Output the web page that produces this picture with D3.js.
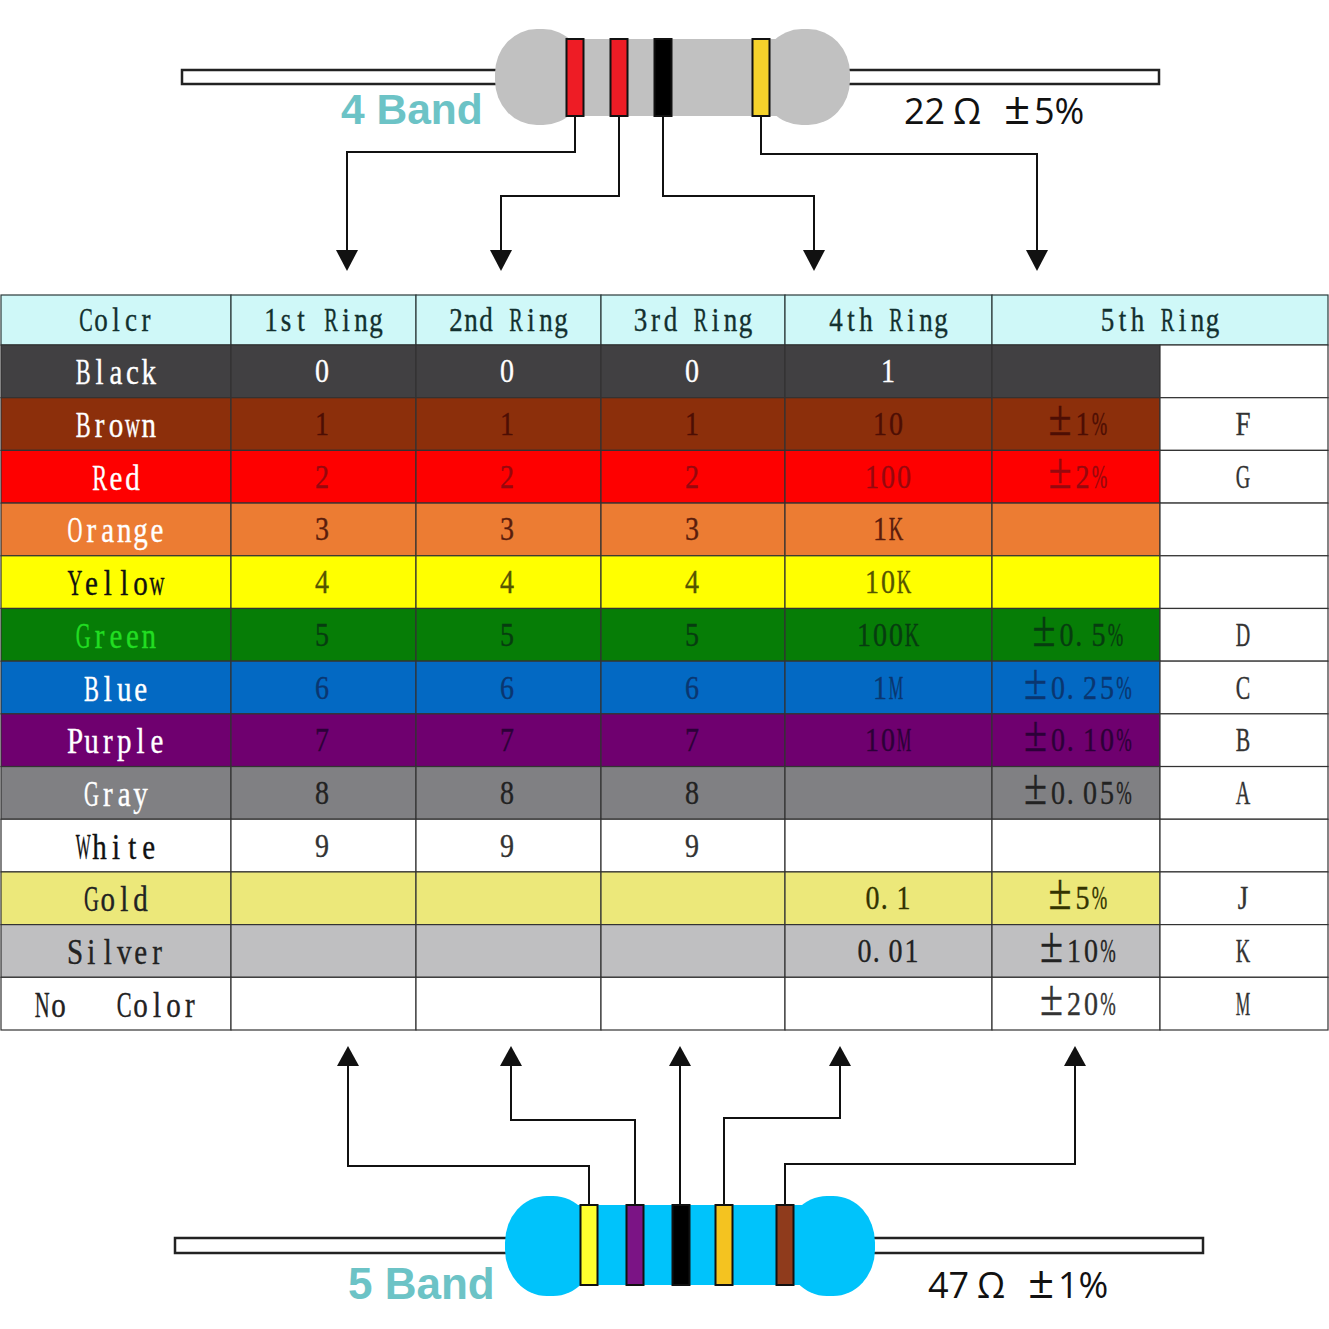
<!DOCTYPE html>
<html>
<head>
<meta charset="utf-8">
<script src="https://d3js.org/d3.v7.min.js"></script>
<style>
  html, body { margin: 0; padding: 0; background: #fff; }
  svg { display: block; }
  .cell-text { font-family: "Liberation Serif", serif; text-anchor: middle; stroke-width: 0.3; }
</style>
</head>
<body>
<div id="chart"></div>
<script>
// table content
const headers = ['Colcr', '1st Ring', '2nd Ring', '3rd Ring', '4th Ring', '5th Ring']
const colorNames = ['Black', 'Brown', 'Red', 'Orange', 'Yellow', 'Green', 'Blue', 'Purple', 'Gray', 'White', 'Gold', 'Silver', 'No   Color']
const ring1 = ['0', '1', '2', '3', '4', '5', '6', '7', '8', '9', '', '', '']
const ring2 = ['0', '1', '2', '3', '4', '5', '6', '7', '8', '9', '', '', '']
const ring3 = ['0', '1', '2', '3', '4', '5', '6', '7', '8', '9', '', '', '']
const ring4 = ['1', '10', '100', '1K', '10K', '100K', '1M', '10M', '', '', '0. 1', '0. 01', '']
const ring5 = ['', '±1%', '±2%', '', '', '±0. 5%', '±0. 25%', '±0. 10%', '±0. 05%', '', '±5%', '±10%', '±20%']
const codes = ['', 'F', 'G', '', '', 'D', 'C', 'B', 'A', '', 'J', 'K', 'M']

// colours per row
const rowFills = ['#414042', '#8c2f0b', '#fe0000', '#ec7c33', '#ffff00', '#067d06', '#0369c3', '#6f006f', '#808083', '#ffffff', '#ece87a', '#bfbfc1', '#ffffff']
const nameInks = ['#fff', '#fff', '#fff', '#fff', '#111', '#22dd22', '#fff', '#fff', '#fff', '#111', '#222', '#222', '#222']
const valueInks = ['#fff', '#4d0e04', '#96080e', '#5a1c0c', '#555500', '#063c10', '#0a3670', '#2c0038', '#222', '#333', '#333300', '#222', '#333']

// column edges of the table
const colEdges = [1, 231, 416, 601, 785, 992, 1160, 1328]
const colKeys = ['name', 'r1', 'r2', 'r3', 'r4', 'r5', 'code']
const colCentres = [116, 322, 507, 692, 888, 1077, 1243]

// resistor pictures
const topBands = ['#ee1c25', '#ee1c25', '#000000', '#f6d32b']
const topBandX = [575, 619, 663, 761]
const topElbowY = [152, 196, 196, 154]
const topArrowX = [347, 501, 814, 1037]
const bottomBands = ['#ffff2e', '#7b1485', '#000000', '#f4c320', '#8f3b1c']
const bottomBandX = [589, 635, 681, 724, 785]
const bottomElbowY = [1166, 1120, 1120, 1118, 1164]
const bottomArrowX = [348, 511, 680, 840, 1075]

const w = 1329
const h = 1329

// glyphs too wide for a half width cell get squeezed sideways
const wideGlyphs = ['W', 'M', 'K', '%', 'w', 'N', 'D', 'A', 'G', 'O', 'C', 'R', 'Y', 'B']

const x = d3.scaleOrdinal().domain(colKeys).range(colEdges)
const xEnd = d3.scaleOrdinal().domain(colKeys).range(colEdges.slice(1))
const xMid = d3.scaleOrdinal().domain(colKeys).range(colCentres)
const y = d3.scaleBand().domain(d3.range(colorNames.length)).range([345, 1030])

const svg = d3.select('#chart').append('svg').attr('width', w).attr('height', h)

const line = d3.line()

// every glyph sits in its own fixed width cell, ± takes about two cells
const cellText = (g, str, cx, cy, ink, charW, size, tightDot) => {
  const chars = Array.from(str)
  const widths = chars.map(c => {
    if (c === '±') return 28
    if (tightDot && (c === '.' || c === ' ')) return 7.5
    return charW
  })
  let pos = -d3.sum(widths) / 2
  const t = g.append('text')
    .attr('class', 'cell-text')
    .attr('transform', `translate(${cx},${cy + 11}) scale(1,1.21)`)
    .attr('font-size', size)
    .attr('fill', ink)
    .attr('stroke', ink)
  chars.forEach((c, i) => {
    if (c !== ' ') {
      const s = t.append('tspan')
        .attr('x', pos + widths[i] / 2)
        .attr('font-size', c === '±' ? 42 : size)
        .text(c)
      if (wideGlyphs.includes(c)) {
        s.attr('textLength', charW - 1.5).attr('lengthAdjust', 'spacingAndGlyphs')
      }
    }
    pos += widths[i]
  })
}

/*Tabla*/
const table = svg.append('g')
const ringRows = { r1: ring1, r2: ring2, r3: ring3, r4: ring4, r5: ring5 }

// header
headers.forEach((d, i) => {
  const key = colKeys[i]
  const right = i === 5 ? 1328 : xEnd(key)
  table.append('rect')
    .attr('x', x(key)).attr('y', 295)
    .attr('width', right - x(key)).attr('height', 50)
    .attr('fill', '#cff8f8').attr('stroke', '#2b3a3a').attr('stroke-width', 1.2)
  cellText(table, d, (x(key) + right) / 2, 320, '#12302f', 15, 27)
})

// body
colorNames.forEach((name, r) => {
  colKeys.forEach(key => {
    const filled = key !== 'code'
    table.append('rect')
      .attr('x', x(key)).attr('y', y(r))
      .attr('width', xEnd(key) - x(key)).attr('height', y.bandwidth())
      .attr('fill', filled ? rowFills[r] : '#fff')
      .attr('stroke', '#333').attr('stroke-width', 1.2)
  })
  const cy = y(r) + y.bandwidth() / 2
  cellText(table, name, xMid('name'), cy + 2, nameInks[r], 16.4, 29)
  Object.keys(ringRows).forEach(key => {
    const val = ringRows[key][r]
    if (val) cellText(table, val, xMid(key), cy, valueInks[r], key === 'r5' ? 17 : 16, 28, true)
  })
  if (codes[r]) cellText(table, codes[r], xMid('code'), cy, '#333', 16, 27)
})

/*Resistencias*/
const resistor = (cfg) => {
  const g = svg.append('g')
  g.append('rect')
    .attr('x', cfg.wire[0]).attr('y', cfg.wireY)
    .attr('width', cfg.wire[1] - cfg.wire[0]).attr('height', cfg.wireH)
    .attr('fill', '#fff').attr('stroke', '#222').attr('stroke-width', 2.5)

  // body and end caps
  g.append('rect')
    .attr('x', cfg.caps[0] + 50).attr('y', cfg.bodyY[0])
    .attr('width', cfg.caps[1] - cfg.caps[0] - 100).attr('height', cfg.bodyY[1] - cfg.bodyY[0])
    .attr('fill', cfg.fill)
  cfg.capCx.forEach(cx => {
    g.append('rect')
      .attr('x', cx - cfg.capRx).attr('y', cfg.cy - cfg.capRy)
      .attr('width', cfg.capRx * 2).attr('height', cfg.capRy * 2)
      .attr('rx', cfg.capRx * 0.93).attr('ry', cfg.capRy * 0.93)
      .attr('fill', cfg.fill)
  })

  // bands
  cfg.bands.forEach((c, i) => {
    g.append('rect')
      .attr('x', cfg.bandX[i] - 8.5).attr('y', cfg.bodyY[0])
      .attr('width', 17).attr('height', cfg.bodyY[1] - cfg.bodyY[0])
      .attr('fill', c).attr('stroke', '#111').attr('stroke-width', 2)
  })

  // leaders and arrows
  cfg.bandX.forEach((bx, i) => {
    const ax = cfg.arrowX[i]
    const pts = Math.abs(bx - ax) < 2
      ? [[ax, cfg.startY], [ax, cfg.arrowBase]]
      : [[bx, cfg.startY], [bx, cfg.elbowY[i]], [ax, cfg.elbowY[i]], [ax, cfg.arrowBase]]
    g.append('path').attr('d', line(pts))
      .attr('fill', 'none').attr('stroke', '#111').attr('stroke-width', 2)
    g.append('path')
      .attr('d', line([[ax - 11, cfg.arrowBase], [ax + 11, cfg.arrowBase], [ax, cfg.arrowTip]]) + 'Z')
      .attr('fill', '#111')
  })

  g.append('text')
    .attr('x', cfg.title[0]).attr('y', cfg.title[1])
    .attr('font-family', 'Liberation Sans').attr('font-weight', 'bold').attr('font-size', cfg.titleSize)
    .attr('fill', '#6cc3c6')
    .text(cfg.titleText)

  // value label in pieces, the ± is much larger than the digits
  cfg.valueParts.forEach((p, i) => {
    g.append('text')
      .attr('x', cfg.valueX[i]).attr('y', cfg.valueY)
      .attr('font-family', 'Open Sans').attr('font-size', p === '±' ? 46 : 36)
      .attr('fill', '#111')
      .text(p)
  })
}

resistor({
  wire: [182, 1159], wireY: 70, wireH: 14,
  caps: [494, 849], capCx: [540, 805], capRx: 45, capRy: 48, cy: 77, bodyY: [39, 116],
  fill: '#c1c1c1',
  bands: topBands, bandX: topBandX, elbowY: topElbowY, arrowX: topArrowX,
  startY: 116, arrowBase: 250, arrowTip: 271,
  title: [341, 124], titleSize: 42.5, titleText: '4 Band',
  valueParts: ['22', 'Ω', '±', '5%'], valueX: [904, 953, 1004, 1034], valueY: 124
})

resistor({
  wire: [175, 1203], wireY: 1238, wireH: 15,
  caps: [506, 874], capCx: [550, 830], capRx: 45, capRy: 50, cy: 1246, bodyY: [1205, 1285],
  fill: '#00c3fb',
  bands: bottomBands, bandX: bottomBandX, elbowY: bottomElbowY, arrowX: bottomArrowX,
  startY: 1204, arrowBase: 1066, arrowTip: 1046,
  title: [348, 1299], titleSize: 44, titleText: '5 Band',
  valueParts: ['47', 'Ω', '±', '1%'], valueX: [928, 977, 1028, 1058], valueY: 1298
})
</script>
</body>
</html>
